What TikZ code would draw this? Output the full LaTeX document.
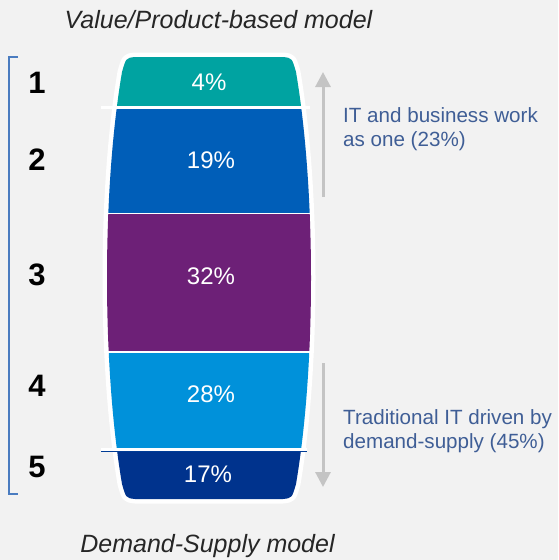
\documentclass[tikz,border=0pt]{standalone}
\usepackage{fontspec}
\setmainfont{Liberation Sans}
\usetikzlibrary{arrows.meta}
\definecolor{bg}{HTML}{F2F2F2}
\definecolor{cteal}{HTML}{00A3A1}
\definecolor{cblue}{HTML}{005EB8}
\definecolor{cpurple}{HTML}{6D2077}
\definecolor{clight}{HTML}{0091DA}
\definecolor{cdark}{HTML}{00338D}
\definecolor{ctext}{HTML}{3F5E96}
\definecolor{cbracket}{HTML}{4A7CC0}
\definecolor{carrow}{HTML}{C4C4C4}
\begin{document}
\begin{tikzpicture}[x=1pt,y=-1pt,
  pct/.style={text=white,font=\fontsize{24}{28}\selectfont,inner sep=0pt},
  num/.style={text=black,font=\fontsize{31}{34}\selectfont\bfseries,inner sep=0pt},
  side/.style={text=ctext,font=\fontsize{20.6}{24.5}\selectfont,align=left,anchor=west,inner sep=0pt},
  ttl/.style={text=black!85,font=\fontsize{25}{28}\selectfont\itshape,inner sep=0pt},
  garrow/.style={draw=carrow,line width=3pt,-{Triangle[width=15pt,length=15pt]}}]
\def\barrel{(135,57) -- (283,57) .. controls (292,58) .. (296,72)
  .. controls (316,190) and (316,366) .. (296,484)
  .. controls (292,498) .. (283,499) -- (135,499)
  .. controls (126,498) .. (122,484)
  .. controls (102,366) and (102,190) .. (122,72)
  .. controls (126,58) .. (135,57) -- cycle}
\fill[bg] (0,0) rectangle (558,560);
\useasboundingbox (0,0) rectangle (558,560);
% white outline
\fill[white,draw=white,line width=9pt,line join=round] \barrel;
\begin{scope}
\clip \barrel;
\fill[cteal] (90,50) rectangle (330,106);
\fill[cblue] (90,109) rectangle (330,213);
\fill[cpurple] (90,214) rectangle (330,351);
\fill[clight] (90,352.5) rectangle (330,447.5);
\fill[cdark] (90,451) rectangle (330,505);
\end{scope}
\draw[white,line width=3pt] (101,107.5) -- (310,107.5);
\draw[white,line width=3pt] (101,449.5) -- (307,449.5);
\draw[cdark!80!cblue,line width=1pt] (101,451.5) -- (307,451.5);
% percentages
\node[pct] (p1) at (209,82) {4\%};
\node[pct] (p2) at (211,160) {19\%};
\node[pct] (p3) at (211,276) {32\%};
\node[pct] (p4) at (211,394) {28\%};
\node[pct] (p5) at (208,474) {17\%};
% level numbers
\node[num] (n1) at (37,83) {1};
\node[num] (n2) at (37,160) {2};
\node[num] (n3) at (37,275) {3};
\node[num] (n4) at (37,386) {4};
\node[num] (n5) at (37,467) {5};
% bracket
\coordinate (bt) at (18,57);
\coordinate (bb) at (18,494);
\draw[cbracket,line width=1.2pt] (bt) -| (9,494) -- (bb);
% titles
\node[ttl] (t1) at (218.5,20) {Value/Product-based model};
\node[ttl] (t2) at (207.5,546) {Demand-Supply model};
% arrows
\coordinate (a1s) at (323,197);
\coordinate (a1e) at (323,72);
\coordinate (a2s) at (323,363);
\coordinate (a2e) at (323,487);
\draw[garrow] (a1s) -- (a1e);
\draw[garrow] (a2s) -- (a2e);
% side texts
\node[side] (s1) at (343,129) {IT and business work\\as one (23\%)};
\node[side] (s2) at (343,431) {Traditional IT driven by\\demand-supply (45\%)};
\end{tikzpicture}
\end{document}
